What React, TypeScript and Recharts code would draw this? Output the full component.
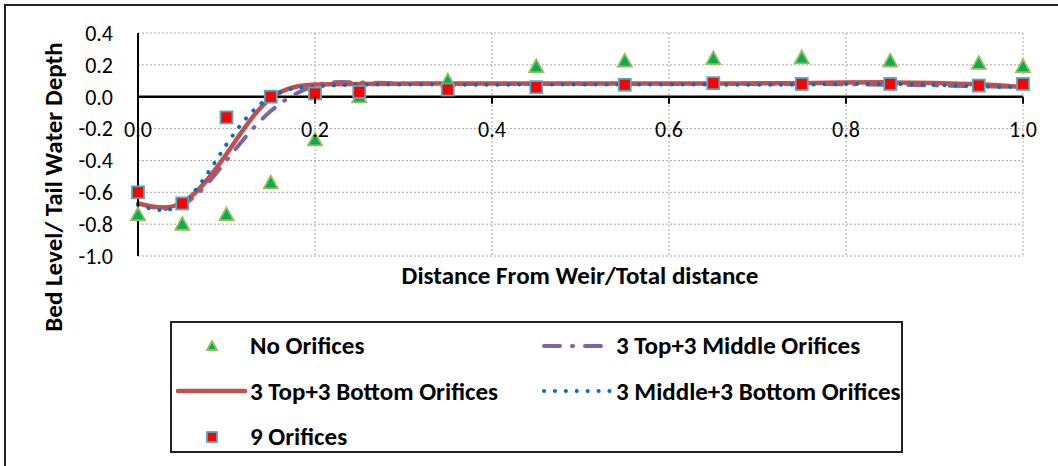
import React from "react";
import {
  ComposedChart,
  Line,
  XAxis,
  YAxis,
  CartesianGrid,
  ReferenceLine,
} from "recharts";

const distances = [0, 0.05, 0.1, 0.15, 0.2, 0.25, 0.35, 0.45, 0.55, 0.65, 0.75, 0.85, 0.95, 1.0];
const noOrifices = [-0.74, -0.8, -0.74, -0.54, -0.27, 0.0, 0.1, 0.19, 0.225, 0.24, 0.245, 0.225, 0.21, 0.19];
const topMiddle = [-0.67, -0.68, -0.4, -0.09, 0.07, 0.09, 0.08, 0.08, 0.08, 0.08, 0.08, 0.075, 0.065, 0.06];
const topBottom = [-0.67, -0.665, -0.36, -0.01, 0.076, 0.08, 0.083, 0.083, 0.083, 0.083, 0.085, 0.09, 0.078, 0.06];
const middleBottom = [-0.68, -0.67, -0.3, 0.0, 0.065, 0.076, 0.076, 0.076, 0.076, 0.076, 0.076, 0.08, 0.065, 0.06];
const nineOrifices = [-0.6, -0.67, -0.13, 0.0, 0.02, 0.03, 0.045, 0.06, 0.075, 0.085, 0.08, 0.08, 0.07, 0.08];

const xTicks = [0, 0.2, 0.4, 0.6, 0.8, 1.0];
const yTicks = [-1.0, -0.8, -0.6, -0.4, -0.2, 0.0, 0.2, 0.4];

const seriesNames = {
  none: "No Orifices",
  topMid: "3 Top+3 Middle Orifices",
  topBot: "3 Top+3 Bottom Orifices",
  midBot: "3 Middle+3 Bottom Orifices",
  nine: "9 Orifices",
};

const data = distances.map((x, i) => ({
  x,
  none: noOrifices[i],
  topMid: topMiddle[i],
  topBot: topBottom[i],
  midBot: middleBottom[i],
  nine: nineOrifices[i],
}));

const FONT = "Carlito, Calibri, Lato, sans-serif";
const W = 1058;
const H = 466;
const PLOT_TOP = 33;
const PLOT_H = 223;
const Y_MIN = -1.0;
const Y_MAX = 0.4;
const zeroY = PLOT_TOP + (Y_MAX / (Y_MAX - Y_MIN)) * PLOT_H;

const RED = "#C0504D";
const PURPLE = "#8064A2";
const BLUE = "#0070C0";

function Triangle({ cx, cy, s = 7 }: any) {
  if (cx == null || cy == null) return null;
  return (
    <path
      d={`M${cx},${cy - s} L${cx + s},${cy + s * 0.8} L${cx - s},${cy + s * 0.8} Z`}
      fill="#00B050"
      stroke="#9BBB59"
      strokeWidth={1.8}
    />
  );
}

function Square({ cx, cy, s = 6 }: any) {
  if (cx == null || cy == null) return null;
  return (
    <rect
      x={cx - s}
      y={cy - s}
      width={s * 2}
      height={s * 2}
      fill="#FF0000"
      stroke="#4BACC6"
      strokeWidth={1.8}
    />
  );
}

function XTick(props: any) {
  const { x, payload } = props;
  return (
    <g>
      <line x1={x} x2={x} y1={zeroY} y2={zeroY + 7} stroke="#000" strokeWidth={2} />
      <text
        x={x}
        y={zeroY + 33}
        dy="0.35em"
        textAnchor="middle"
        fontSize={22}
        fontFamily={FONT}
        fill="#000"
      >
        {Number(payload.value).toFixed(1)}
      </text>
    </g>
  );
}

function LegendItem({ kind, label }: { kind: string; label: string }) {
  let sym: React.ReactNode = null;
  if (kind === "tri") {
    sym = (
      <svg width={76} height={16}>
        <Triangle cx={40} cy={8} s={5} />
      </svg>
    );
  } else if (kind === "sq") {
    sym = (
      <svg width={76} height={16}>
        <Square cx={40} cy={8} s={5} />
      </svg>
    );
  } else {
    const style: any = {
      red: { stroke: RED, strokeWidth: 4.5, dash: undefined },
      purple: { stroke: PURPLE, strokeWidth: 4, dash: "16 12 1 12" },
      blue: { stroke: BLUE, strokeWidth: 4, dash: "0.1 10.8" },
    }[kind];
    sym = (
      <svg width={76} height={16}>
        <line
          x1={6}
          x2={73}
          y1={8}
          y2={8}
          stroke={style.stroke}
          strokeWidth={style.strokeWidth}
          strokeDasharray={style.dash}
          strokeLinecap="round"
        />
      </svg>
    );
  }
  return (
    <div style={{ display: "flex", alignItems: "center", height: 45.5 }}>
      {sym}
      <span style={{ marginLeft: 2, whiteSpace: "nowrap" }}>{label}</span>
    </div>
  );
}

export default function App() {
  return (
    <div
      style={{
        position: "absolute",
        left: 0,
        top: 0,
        width: W,
        height: H,
        overflow: "hidden",
        background: "#fff",
        fontFamily: FONT,
      }}
    >
      <div
        style={{
          position: "absolute",
          left: 4,
          top: 4,
          right: 0,
          bottom: 0,
          borderLeft: "2.5px solid #222",
          borderTop: "2.5px solid #222",
        }}
      />
      <ComposedChart
        width={W}
        height={H}
        data={data}
        margin={{ top: PLOT_TOP, right: 35, bottom: 180, left: 78 }}
        style={{ position: "absolute", left: 0, top: 0 }}
      >
        <CartesianGrid stroke="#A6A6A6" strokeDasharray="2 2" />
        <XAxis
          dataKey="x"
          type="number"
          domain={[0, 1]}
          ticks={xTicks}
          axisLine={false}
          tickLine={false}
          height={30}
          tick={<XTick />}
          interval={0}
        />
        <YAxis
          type="number"
          domain={[Y_MIN, Y_MAX]}
          ticks={yTicks}
          width={60}
          axisLine={{ stroke: "#000", strokeWidth: 2 }}
          tickLine={false}
          tickSize={0}
          tickMargin={25}
          interval={0}
          tick={{ fontSize: 22, fontFamily: FONT, fill: "#000" }}
          tickFormatter={(v: number) => v.toFixed(1)}
        />
        <ReferenceLine y={0} stroke="#000" strokeWidth={2.5} />
        <Line
          dataKey="none"
          name={seriesNames.none}
          stroke="none"
          isAnimationActive={false}
          activeDot={false}
          dot={(p: any) => <Triangle key={`t${p.index}`} cx={p.cx} cy={p.cy} />}
        />
        <Line
          dataKey="topMid"
          name={seriesNames.topMid}
          type="natural"
          stroke={PURPLE}
          strokeWidth={4}
          strokeDasharray="16 12 1 12"
          strokeLinecap="round"
          dot={false}
          activeDot={false}
          isAnimationActive={false}
        />
        <Line
          dataKey="topBot"
          name={seriesNames.topBot}
          type="natural"
          stroke={RED}
          strokeWidth={4.5}
          dot={false}
          activeDot={false}
          isAnimationActive={false}
        />
        <Line
          dataKey="midBot"
          name={seriesNames.midBot}
          type="natural"
          stroke={BLUE}
          strokeWidth={4}
          strokeDasharray="0.1 10.8"
          strokeLinecap="round"
          dot={false}
          activeDot={false}
          isAnimationActive={false}
        />
        <Line
          dataKey="nine"
          name={seriesNames.nine}
          stroke="none"
          isAnimationActive={false}
          activeDot={false}
          dot={(p: any) => <Square key={`s${p.index}`} cx={p.cx} cy={p.cy} />}
        />
      </ComposedChart>

      <div
        style={{
          position: "absolute",
          left: 53,
          top: 187,
          transform: "translate(-50%, -50%) rotate(-90deg)",
          whiteSpace: "nowrap",
          fontWeight: 700,
          fontSize: 25,
          color: "#000",
        }}
      >
        Bed Level/ Tail Water Depth
      </div>
      <div
        style={{
          position: "absolute",
          left: 580,
          top: 275,
          transform: "translate(-50%, -50%)",
          whiteSpace: "nowrap",
          fontWeight: 700,
          fontSize: 25,
          color: "#000",
        }}
      >
        Distance From Weir/Total distance
      </div>

      <div
        style={{
          position: "absolute",
          left: 170,
          top: 321,
          width: 733,
          height: 132,
          boxSizing: "border-box",
          border: "2px solid #222",
          fontWeight: 700,
          fontSize: 25,
          color: "#000",
          display: "grid",
          gridTemplateColumns: "366px 363px",
          alignContent: "start",
          overflow: "hidden",
        }}
      >
        <LegendItem kind="tri" label={seriesNames.none} />
        <LegendItem kind="purple" label={seriesNames.topMid} />
        <LegendItem kind="red" label={seriesNames.topBot} />
        <LegendItem kind="blue" label={seriesNames.midBot} />
        <LegendItem kind="sq" label={seriesNames.nine} />
      </div>
    </div>
  );
}
